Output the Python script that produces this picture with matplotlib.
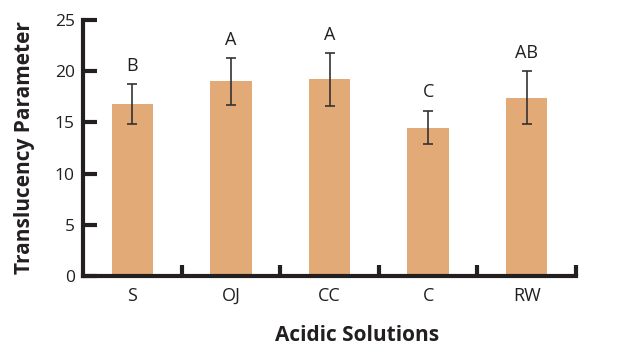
import matplotlib.pyplot as plt
import numpy as np

plt.rcParams['font.family'] = ['Open Sans', 'DejaVu Sans']

solutions = ["S", "OJ", "CC", "C", "RW"]
means = [16.8, 19.0, 19.2, 14.5, 17.4]
errors = [1.95, 2.3, 2.55, 1.65, 2.6]
groups = ["B", "A", "A", "C", "AB"]

fig = plt.figure(figsize=(6.39, 3.45), dpi=100)
ax = fig.add_axes([83 / 639, 69 / 345, 493 / 639, 256 / 345])

x = np.arange(len(solutions))
ax.bar(x, means, width=0.42, color="#E2AA76", zorder=2)
ax.errorbar(x, means, yerr=errors, fmt="none", ecolor="#333333",
            elinewidth=1.2, capsize=3.6, capthick=1.2, zorder=3)

for xi, m, e, g in zip(x, means, errors, groups):
    ax.text(xi, m + e + 0.9, g, ha="center", va="bottom", fontsize=13,
            color="#231f20")

ax.set_xlim(-0.5, 4.5)
ax.set_ylim(0, 25)
ax.set_yticks([0, 5, 10, 15, 20, 25])
ax.set_xticks(x)
ax.set_xticklabels(solutions)
ax.set_xticks(np.arange(0.5, 5, 1), minor=True)

for s in ["top", "right"]:
    ax.spines[s].set_visible(False)
for s in ["left", "bottom"]:
    ax.spines[s].set_linewidth(3)
    ax.spines[s].set_color("#231f20")

ax.tick_params(axis="y", direction="in", length=10, width=3, color="#231f20",
               labelsize=12.5, labelcolor="#231f20", pad=6)
ax.tick_params(axis="x", which="major", length=0, labelsize=13,
               labelcolor="#231f20", pad=8)
ax.tick_params(axis="x", which="minor", direction="in", length=8, width=3,
               color="#231f20")

ax.set_ylabel("Translucency Parameter", fontsize=15, fontweight="bold",
              color="#231f20")
ax.yaxis.set_label_coords(-48 / 493, 0.5)
ax.set_xlabel("Acidic Solutions", fontsize=15, fontweight="bold",
              color="#231f20")
ax.xaxis.set_label_coords(274 / 493, -49 / 256)

fig.savefig("out.png", dpi=100)
